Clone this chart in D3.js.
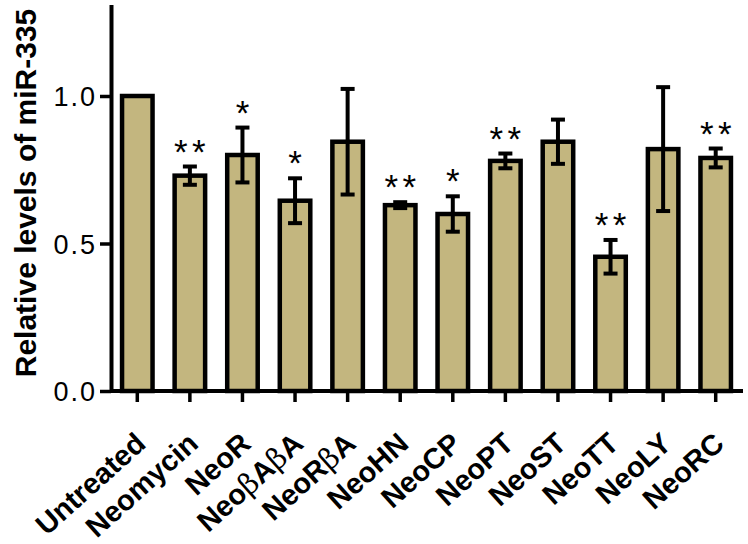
<!DOCTYPE html>
<html>
<head>
<meta charset="utf-8">
<script src="https://cdn.jsdelivr.net/npm/d3@7"></script>
<style>
  body { margin: 0; background: #fff; }
  text { font-family: "Liberation Sans", Arial, sans-serif; }
</style>
</head>
<body>
<div id="chart"></div>
<script>
// Data
const groups = ["Untreated", "Neomycin", "NeoR", "NeoβAβA", "NeoRβA", "NeoHN",
                "NeoCP", "NeoPT", "NeoST", "NeoTT", "NeoLY", "NeoRC"];
const means = [1.0, 0.73, 0.80, 0.645, 0.845, 0.63, 0.60, 0.78, 0.845, 0.455, 0.82, 0.79];
const errors = [0, 0.031, 0.093, 0.076, 0.179, 0.01, 0.06, 0.025, 0.075, 0.057, 0.21, 0.032];
const stars = ["", "**", "*", "*", "", "**", "*", "**", "", "**", "", "**"];
const yTicks = [0, 0.5, 1.0];

const width = 748, height = 544;

const svg = d3.select("#chart")
    .append("svg")
    .attr("width", width)
    .attr("height", height);

// Scales
const x = d3.scaleBand()
    .domain(groups)
    .range([111, 742])
    .paddingInner(0.42)
    .paddingOuter(0.21);

const y = d3.scaleLinear()
    .domain([0, 1.31])
    .range([391, 391 - 1.31 * 295]);

// Y axis
const yAxis = svg.append("g")
    .attr("transform", "translate(111,0)")
    .call(d3.axisLeft(y).tickValues(yTicks).tickFormat(d3.format(".1f")).tickSize(11).tickSizeOuter(0).tickPadding(3));
yAxis.select(".domain").attr("stroke-width", 4);
yAxis.selectAll(".tick line").attr("stroke-width", 3.5);
yAxis.selectAll(".tick text")
    .attr("font-size", 27)
    .attr("letter-spacing", 2)
    .attr("fill", "#000")
    .attr("dy", "0.36em");

// X axis
const xAxis = svg.append("g")
    .attr("transform", "translate(0,391)")
    .call(d3.axisBottom(x).tickSize(11).tickSizeOuter(0).tickFormat(""));
xAxis.select(".domain").attr("stroke-width", 4)
    .attr("d", "M111,0H743");
xAxis.selectAll(".tick line").attr("stroke-width", 3.5);

// Bars
svg.selectAll("rect.bar")
    .data(groups)
    .enter().append("rect")
    .attr("class", "bar")
    .attr("x", d => x(d))
    .attr("width", x.bandwidth())
    .attr("y", (d, i) => y(means[i]))
    .attr("height", (d, i) => y(0) - y(means[i]))
    .attr("fill", "#C3B67F")
    .attr("stroke", "#000")
    .attr("stroke-width", 4.5);

// Error bars
const capW = 14;
groups.forEach((g, i) => {
    if (!errors[i]) return;
    const cx = x(g) + x.bandwidth() / 2;
    const eg = svg.append("g")
        .attr("stroke", "#000")
        .attr("stroke-width", 4);
    eg.append("line")
        .attr("x1", cx).attr("x2", cx)
        .attr("y1", y(means[i] + errors[i])).attr("y2", y(means[i] - errors[i]));
    [means[i] + errors[i], means[i] - errors[i]].forEach(v => {
        eg.append("line")
            .attr("x1", cx - capW / 2).attr("x2", cx + capW / 2)
            .attr("y1", y(v)).attr("y2", y(v));
    });
});

// Significance stars
groups.forEach((g, i) => {
    if (!stars[i]) return;
    const cx = x(g) + x.bandwidth() / 2;
    const top = y(means[i] + errors[i]) - 2;
    const n = stars[i].length;
    for (let k = 0; k < n; k++) {
        const off = n === 1 ? 0 : (k === 0 ? -9 : 9);
        svg.append("text")
            .attr("x", cx + off)
            .attr("y", top - 1)
            .attr("text-anchor", "middle")
            .attr("font-size", 35)
            .attr("fill", "#000")
            .text("*");
    }
});

// X labels, rotated
groups.forEach(g => {
    const t = svg.append("text")
        .attr("transform", `translate(${x(g) + x.bandwidth() / 2 + 10},446) rotate(-42)`)
        .attr("text-anchor", "end")
        .attr("font-size", 29)
        .attr("font-weight", "bold")
        .attr("fill", "#000");
    g.split(/(β)/).filter(s => s).forEach(s => {
        const ts = t.append("tspan").text(s);
        if (s === "β") ts.attr("font-family", "'DejaVu Serif', serif").attr("font-weight", "normal");
    });
});

// Y axis title
svg.append("text")
    .attr("transform", "translate(36,193) rotate(-90)")
    .attr("text-anchor", "middle")
    .attr("font-size", 30)
    .attr("font-weight", "bold")
    .attr("fill", "#000")
    .text("Relative levels of miR-335");
</script>
</body>
</html>
